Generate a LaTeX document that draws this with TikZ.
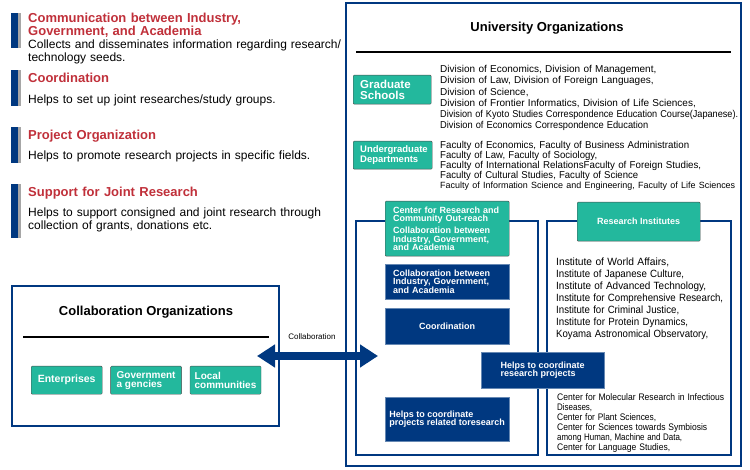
\documentclass[tikz,border=0pt]{standalone}
\usepackage{fontspec}
\setmainfont{Liberation Sans}
\usepackage{graphicx}
\usetikzlibrary{positioning, arrows.meta}
\definecolor{navy}{RGB}{0,56,128}
\definecolor{jade}{RGB}{35,184,157}
\definecolor{brick}{RGB}{192,48,58}
\newcommand{\squeeze}[2]{\resizebox{#1pt}{\height}{#2}}

\begin{document}
\begin{tikzpicture}[x=1pt,y=-1pt]
\tikzstyle{frame}=[draw=navy, line width=1.5pt]
\tikzstyle{head}=[anchor=base west, inner sep=0, text=brick, font=\fontsize{13}{13}\selectfont\bfseries, text width=340, align=left]
\tikzstyle{body}=[anchor=base west, inner sep=0, font=\fontsize{12}{13}\selectfont, text width=340, align=left]
\tikzstyle{jadebox}=[anchor=north west, draw=black!70, fill=jade, text=white, rounded corners=1pt, inner ysep=0, align=left]
\tikzstyle{navybox}=[anchor=north west, draw=navy!60, fill=navy, text=white, inner ysep=0, align=left, font=\fontsize{9}{8.5}\selectfont\bfseries]
\tikzstyle{list}=[anchor=base west, inner sep=0, text width=320, align=left]
\tikzstyle{link}=[line width=8pt, draw=navy, {Triangle[width=22pt,length=18pt]}-{Triangle[width=22pt,length=18pt]}]
\useasboundingbox (0,0) rectangle (750,470);

% side bars
\foreach \top/\bot in {13/48, 70/106, 127/163, 184/238} {
  \fill[navy] (11,\top) rectangle (18,\bot);
  \fill[black!35] (18,\top) rectangle (21,\bot);
}
\node[head] (commT) at (28,22.5) {Communication between Industry,\\Government, and Academia};
\node[body] (commB) at (28,48.3) {Collects and disseminates information regarding research/\\technology seeds.};
\node[head] (coorT) at (28,82.5) {Coordination};
\node[body] (coorB) at (28,103.3) {Helps to set up joint researches/study groups.};
\node[head] (projT) at (28,139.5) {Project Organization};
\node[body] (projB) at (28,159.3) {Helps to promote research projects in specific fields.};
\node[head] (suppT) at (28,196.5) {Support for Joint Research};
\node[body] (suppB) at (28,216.3) {Helps to support consigned and joint research through\\collection of grants, donations etc.};

% university
\draw[frame, line width=2pt] (346,3) rectangle (741,466);
\node[font=\fontsize{13}{15}\selectfont\bfseries] (univT) at (547,28) {University Organizations};
\draw[line width=1.5pt] (356,52) -- (731,52);
\node[jadebox, minimum width=78, minimum height=29, inner xsep=7, text width=64, font=\fontsize{11.5}{11}\selectfont\bfseries] (grad) at (353,75) {Graduate\\Schools};
\node[list, font=\fontsize{10}{11.3}\selectfont] (gradL) at (440,72.5) {Division of Economics, Division of Management,\\Division of Law, Division of Foreign Languages,\\Division of Science,\\Division of Frontier Informatics, Division of Life Sciences,\\\squeeze{298}{Division of Kyoto Studies Correspondence Education Course(Japanese).}\\\squeeze{208}{Division of Economics Correspondence Education}};
\node[jadebox, minimum width=79, minimum height=28, inner xsep=7, text width=65, font=\fontsize{9.5}{10}\selectfont\bfseries] (ugrad) at (353,141) {Undergraduate\\Departments};
\node[list, font=\fontsize{10}{10}\selectfont] (ugradL) at (440,148.5) {\squeeze{249}{Faculty of Economics, Faculty of Business Administration}\\\squeeze{157}{Faculty of Law, Faculty of Sociology,}\\\squeeze{261}{Faculty of International RelationsFaculty of Foreign Studies,}\\\squeeze{198}{Faculty of Cultural Studies, Faculty of Science}\\\squeeze{295}{\fontsize{9}{10}\selectfont Faculty of Information Science and Engineering, Faculty of Life Sciences}};

\draw[frame] (356,221) rectangle (538,455);
\draw[frame] (547,221) rectangle (731,455);
\node[jadebox, minimum width=124, minimum height=55, inner xsep=8, text width=108, font=\fontsize{9}{8.7}\selectfont\bfseries] (cro) at (385,201) {Center for Research and\\Community Out-reach\\[3pt]Collaboration between\\Industry, Government,\\and Academia};
\node[jadebox, minimum width=123, minimum height=39, align=center, font=\fontsize{9}{10}\selectfont\bfseries] (rinst) at (577,202) {Research Institutes};
\node[navybox, minimum width=124, minimum height=35, inner xsep=8, text width=108] (nbCollab) at (385,264) {Collaboration between\\Industry, Government,\\and Academia};
\node[navybox, minimum width=124, minimum height=36, align=center] (nbCoord) at (385,308) {Coordination};
\node[navybox, minimum width=123, minimum height=36] (nbProj) at (481,352) {Helps to coordinate\\research projects};
\node[navybox, minimum width=124, minimum height=44] (nbRel) at (385,397) {Helps to coordinate\\projects related toresearch};
\node[list, font=\fontsize{10.5}{12}\selectfont] (rinstL) at (556,265.6) {\squeeze{113}{Institute of World Affairs,}\\\squeeze{128}{Institute of Japanese Culture,}\\\squeeze{150}{Institute of Advanced Technology,}\\\squeeze{167}{Institute for Comprehensive Research,}\\\squeeze{123}{Institute for Criminal Justice,}\\\squeeze{132}{Institute for Protein Dynamics,}\\\squeeze{152}{Koyama Astronomical Observatory,}};
\node[list, font=\fontsize{9.5}{10}\selectfont] (centL) at (557,400.3) {\squeeze{167}{Center for Molecular Research in Infectious}\\\squeeze{35}{Diseases,}\\\squeeze{99}{Center for Plant Sciences,}\\\squeeze{150}{Center for Sciences towards Symbiosis}\\\squeeze{125}{among Human, Machine and Data,}\\\squeeze{113}{Center for Language Studies,}};

% collaboration organizations
\draw[frame] (12,286) rectangle (279,426);
\node[font=\fontsize{13}{15}\selectfont\bfseries] (collT) at (146,312) {Collaboration Organizations};
\draw[line width=1.5pt] (23,337) -- (269,337);
\node[jadebox, minimum width=71, minimum height=28, font=\fontsize{10.5}{9}\selectfont\bfseries] (entp) at (31,366) {Enterprises};
\node[jadebox, minimum width=71, minimum height=28, font=\fontsize{10}{9}\selectfont\bfseries] (govt) [right=8pt of entp] {Government\\a gencies};
\node[jadebox, minimum width=71, minimum height=28, font=\fontsize{10}{9}\selectfont\bfseries] (local) [right=8pt of govt] {Local\\communities};
\node[font=\fontsize{8}{9}\selectfont] (collab) at (312,337) {Collaboration};
\coordinate (arrL) at (257,356);
\coordinate (arrR) at (378,356);
\draw[link] (arrL) -- (arrR);
\end{tikzpicture}
\end{document}
